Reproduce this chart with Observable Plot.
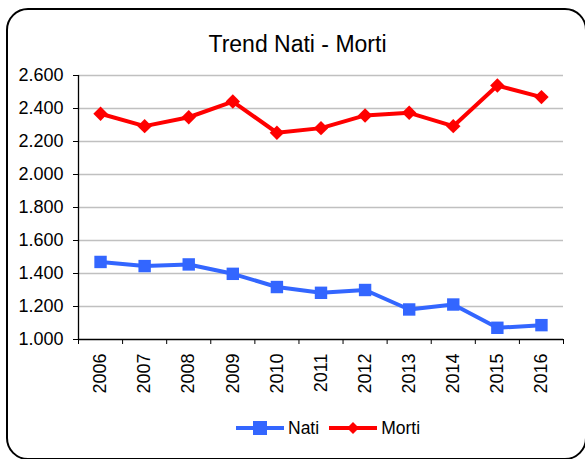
<!DOCTYPE html>
<html>
<head>
<meta charset="utf-8">
<script src="https://cdn.jsdelivr.net/npm/d3@7"></script>
<script src="https://cdn.jsdelivr.net/npm/@observablehq/plot@0.6"></script>
<style>
  body { margin: 0; background: #fff; font-family: "Liberation Sans", Arial, sans-serif; }
  #wrap { position: relative; width: 585px; height: 459px; overflow: hidden; background: #fff; }
  #chart { position: absolute; left: 0; top: 0; }
  #frame { position: absolute; left: 6px; top: 8px; width: 581px; height: 452px; border: 2px solid #000; border-radius: 22px; box-sizing: border-box; }
  #title { position: absolute; left: 0; top: 33px; width: 595px; text-align: center; font-size: 23px; line-height: 23px; color: #000; }
  #legend { position: absolute; left: 236px; top: 418px; display: flex; align-items: center; font-size: 17.5px; line-height: 20px; color: #000; }
  #legend .item { display: flex; align-items: center; margin-right: 10px; }
  #legend svg { display: block; margin-right: 4px; }
</style>
</head>
<body>
<div id="wrap">
  <div id="chart"></div>
  <div id="frame"></div>
  <div id="title">Trend Nati - Morti</div>
  <div id="legend"></div>
</div>
<script>
const years = [2006, 2007, 2008, 2009, 2010, 2011, 2012, 2013, 2014, 2015, 2016];
const nati  = [1470, 1445, 1455, 1398, 1318, 1283, 1300, 1182, 1212, 1071, 1087];
const morti = [2368, 2293, 2347, 2442, 2253, 2281, 2358, 2374, 2293, 2539, 2469];
const yTicks = [1000, 1200, 1400, 1600, 1800, 2000, 2200, 2400, 2600];
const seriesNames = ["Nati", "Morti"];
const seriesColors = ["#3366FF", "#FF0000"];

const xDomain = [years[0] - 0.5, years[years.length - 1] + 0.5];
const xBounds = years.map(y => y - 0.5).concat([years[years.length - 1] + 0.5]);
const fmt = d => d3.format(",")(d).replace(/,/g, ".");

const natiData = years.map((y, i) => ({year: y, value: nati[i]}));
const mortiData = years.map((y, i) => ({year: y, value: morti[i]}));

const plot = Plot.plot({
  width: 585,
  height: 459,
  marginTop: 75,
  marginBottom: 120,
  marginLeft: 78,
  marginRight: 22,
  style: { background: "transparent", fontFamily: "'Liberation Sans', Arial, sans-serif", color: "#000" },
  x: { type: "linear", domain: xDomain, label: null },
  y: { domain: [yTicks[0], yTicks[yTicks.length - 1]], label: null },
  marks: [
    Plot.gridY(yTicks.slice(1), { stroke: "#c0c0c0", strokeOpacity: 1, strokeWidth: 1.3 }),
    Plot.ruleY([yTicks[0]], { stroke: "#000", strokeWidth: 1.3 }),
    Plot.ruleX([xDomain[0]], { stroke: "#000", strokeWidth: 1.3 }),
    Plot.axisY({ ticks: yTicks, tickSize: 5, tickPadding: 10, fontSize: 18, tickFormat: fmt, label: null, stroke: "#000" }),
    Plot.axisX({ ticks: xBounds, tickSize: 5, tickFormat: () => "", label: null, stroke: "#000" }),
    Plot.axisX({ ticks: years, tickSize: 0, tickPadding: 14, tickRotate: -90, fontSize: 18, tickFormat: d => String(d), label: null }),
    Plot.line(natiData, { x: "year", y: "value", stroke: seriesColors[0], strokeWidth: 4 }),
    Plot.line(mortiData, { x: "year", y: "value", stroke: seriesColors[1], strokeWidth: 4 }),
    Plot.dot(natiData, { x: "year", y: "value", symbol: "square", fill: seriesColors[0], stroke: "none", r: 7 }),
    Plot.dot(mortiData, { x: "year", y: "value", symbol: "diamond2", fill: seriesColors[1], stroke: "none", r: 6.5 })
  ]
});
document.getElementById("chart").appendChild(plot);

// legend
const legend = document.getElementById("legend");
seriesNames.forEach((name, i) => {
  const item = document.createElement("div");
  item.className = "item";
  const ns = "http://www.w3.org/2000/svg";
  const svg = document.createElementNS(ns, "svg");
  svg.setAttribute("width", 48);
  svg.setAttribute("height", 16);
  const line = document.createElementNS(ns, "line");
  line.setAttribute("x1", 0); line.setAttribute("x2", 48);
  line.setAttribute("y1", 8); line.setAttribute("y2", 8);
  line.setAttribute("stroke", seriesColors[i]);
  line.setAttribute("stroke-width", 4);
  svg.appendChild(line);
  const sym = document.createElementNS(ns, "path");
  sym.setAttribute("d", i === 0 ? "M17,1H31V15H17Z" : "M24,2L30,8L24,14L18,8Z");
  sym.setAttribute("fill", seriesColors[i]);
  svg.appendChild(sym);
  item.appendChild(svg);
  const t = document.createElement("span");
  t.textContent = name;
  item.appendChild(t);
  legend.appendChild(item);
});
</script>
</body>
</html>
